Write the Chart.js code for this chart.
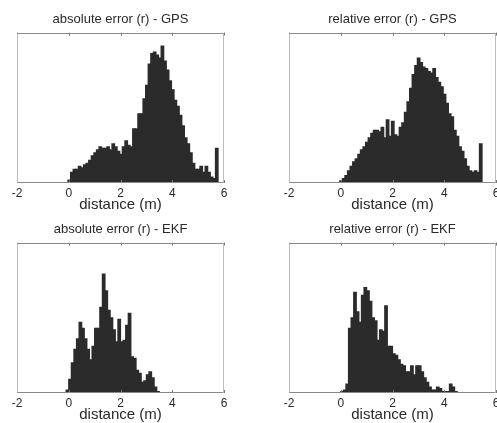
<!DOCTYPE html>
<html>
<head>
<meta charset="utf-8">
<script src="https://cdn.jsdelivr.net/npm/chart.js@4.4.1/dist/chart.umd.min.js"></script>
<style>
  html, body { margin: 0; padding: 0; background: #fff; width: 497px; height: 423px; overflow: hidden; }
  canvas { position: absolute; }
</style>
</head>
<body>
<canvas id="absGps" width="248" height="214" style="left:0;top:0"></canvas>
<canvas id="relGps" width="262" height="214" style="left:248px;top:0"></canvas>
<canvas id="absEkf" width="248" height="214" style="left:0;top:210px"></canvas>
<canvas id="relEkf" width="262" height="214" style="left:248px;top:210px"></canvas>
<script>
// histogram bins: 0.1 m wide, counts scaled so the axis top is 100
const binWidth = 0.1;
const xTicks = [-2, 0, 2, 4, 6];

const absGpsStart = -0.03;
const absGpsCounts = [2, 7, 9, 9, 11, 10, 12, 13, 15, 18, 20, 22, 24, 23, 23, 24, 22, 26, 24, 21,
  19, 24, 28, 25, 24, 36, 36, 46, 46, 56, 65, 79, 86, 87, 85, 83, 91, 81, 75, 68,
  62, 55, 51, 45, 38, 30, 26, 20, 13, 9, 9, 11, 7, 11, 7, 4, 3, 23];

const relGpsStart = -0.04;
const relGpsCounts = [1.5, 3, 5, 8, 11, 14, 16, 19, 22, 24, 27, 30, 33, 35, 35, 34, 37, 30, 42, 31,
  41, 32, 31, 37, 40, 47, 54, 63, 72, 78, 83, 80, 77, 76, 74, 73, 76, 70, 67, 64,
  59, 53, 46, 44, 35, 31, 24, 21, 16, 11, 8, 7, 8, 7, 26];

const absEkfStart = -0.1;
const absEkfCounts = [2, 9, 20, 29, 36, 47, 43, 36, 29, 22, 31, 43, 43, 57, 79, 68, 55, 50, 42, 34,
  49, 34, 35, 45, 53, 24, 23, 15, 13, 7, 8, 12, 14, 10, 4, 1];

const relEkfStart = 0.0;
const relEkfCounts = [1, 2, 6, 43, 50, 67, 54, 47, 65, 70, 68, 61, 50, 48, 35, 42, 41, 58, 31, 31,
  26, 25, 22, 19, 18, 14, 14, 18, 12, 18, 18, 14, 10, 7, 4, 2, 2, 4, 3, 1,
  1, 1, 6, 4, 1];

Chart.defaults.font.family = "'Liberation Sans', Arial, sans-serif";
Chart.defaults.color = '#2a2a2a';

function toBars(start, counts) {
  return counts.map((c, i) => ({ x: +(start + (i + 0.5) * binWidth).toFixed(3), y: c }));
}

// matlab-like box with inward tick marks
const framePlugin = {
  id: 'frame',
  afterDraw(chart) {
    const { ctx, chartArea: a, scales: { x } } = chart;
    ctx.save();
    ctx.lineWidth = 1;
    ctx.strokeStyle = '#777';
    xTicks.forEach(v => {
      const px = Math.round(x.getPixelForValue(v)) + 0.5;
      ctx.beginPath();
      ctx.moveTo(px, a.top); ctx.lineTo(px, a.top + 3);
      ctx.moveTo(px, a.bottom); ctx.lineTo(px, a.bottom - 3);
      ctx.stroke();
    });
    const l = Math.round(a.left) + 0.5, r = Math.round(a.right) - 0.5;
    const t = Math.round(a.top) + 0.5, b = Math.round(a.bottom) - 0.5;
    ctx.strokeStyle = '#bdbdbd';
    ctx.beginPath();
    ctx.moveTo(l, t); ctx.lineTo(l, b);
    ctx.moveTo(r, t); ctx.lineTo(r, b);
    ctx.stroke();
    ctx.strokeStyle = '#8a8a8a';
    ctx.beginPath();
    ctx.moveTo(l, t); ctx.lineTo(r, t);
    ctx.moveTo(l, b); ctx.lineTo(r, b);
    ctx.stroke();
    ctx.restore();
  }
};

function makeHist(id, title, start, counts, padLeft, padRight) {
  return new Chart(document.getElementById(id), {
    type: 'bar',
    data: {
      datasets: [{
        data: toBars(start, counts),
        backgroundColor: '#2b2b2b',
        borderWidth: 0,
        barPercentage: 1,
        categoryPercentage: 1,
        inflateAmount: 0.6
      }]
    },
    options: {
      responsive: false,
      animation: false,
      layout: { padding: { left: padLeft, right: padRight, top: 0, bottom: 0 } },
      plugins: {
        legend: { display: false },
        tooltip: { enabled: false },
        title: {
          display: true,
          text: title,
          font: { size: 13, weight: 'normal' },
          padding: { top: 12, bottom: 5 }
        }
      },
      scales: {
        x: {
          type: 'linear',
          min: -2, max: 6,
          offset: false,
          grid: { display: false, drawTicks: false },
          border: { display: false },
          afterBuildTicks: s => { s.ticks = xTicks.map(v => ({ value: v })); },
          ticks: { padding: 3, font: { size: 12 }, maxRotation: 0, autoSkip: false },
          title: { display: true, text: 'distance (m)', font: { size: 15 }, padding: 0 },
          afterFit: s => { s.height = 31; }
        },
        y: { display: false, min: 0, max: 100 }
      }
    },
    plugins: [framePlugin]
  });
}

makeHist('absGps', 'absolute error (r) - GPS', absGpsStart, absGpsCounts, 17, 24);
makeHist('relGps', 'relative error (r) - GPS', relGpsStart, relGpsCounts, 41, 14);
makeHist('absEkf', 'absolute error (r) - EKF', absEkfStart, absEkfCounts, 17, 24);
makeHist('relEkf', 'relative error (r) - EKF', relEkfStart, relEkfCounts, 41, 14);
</script>
</body>
</html>
